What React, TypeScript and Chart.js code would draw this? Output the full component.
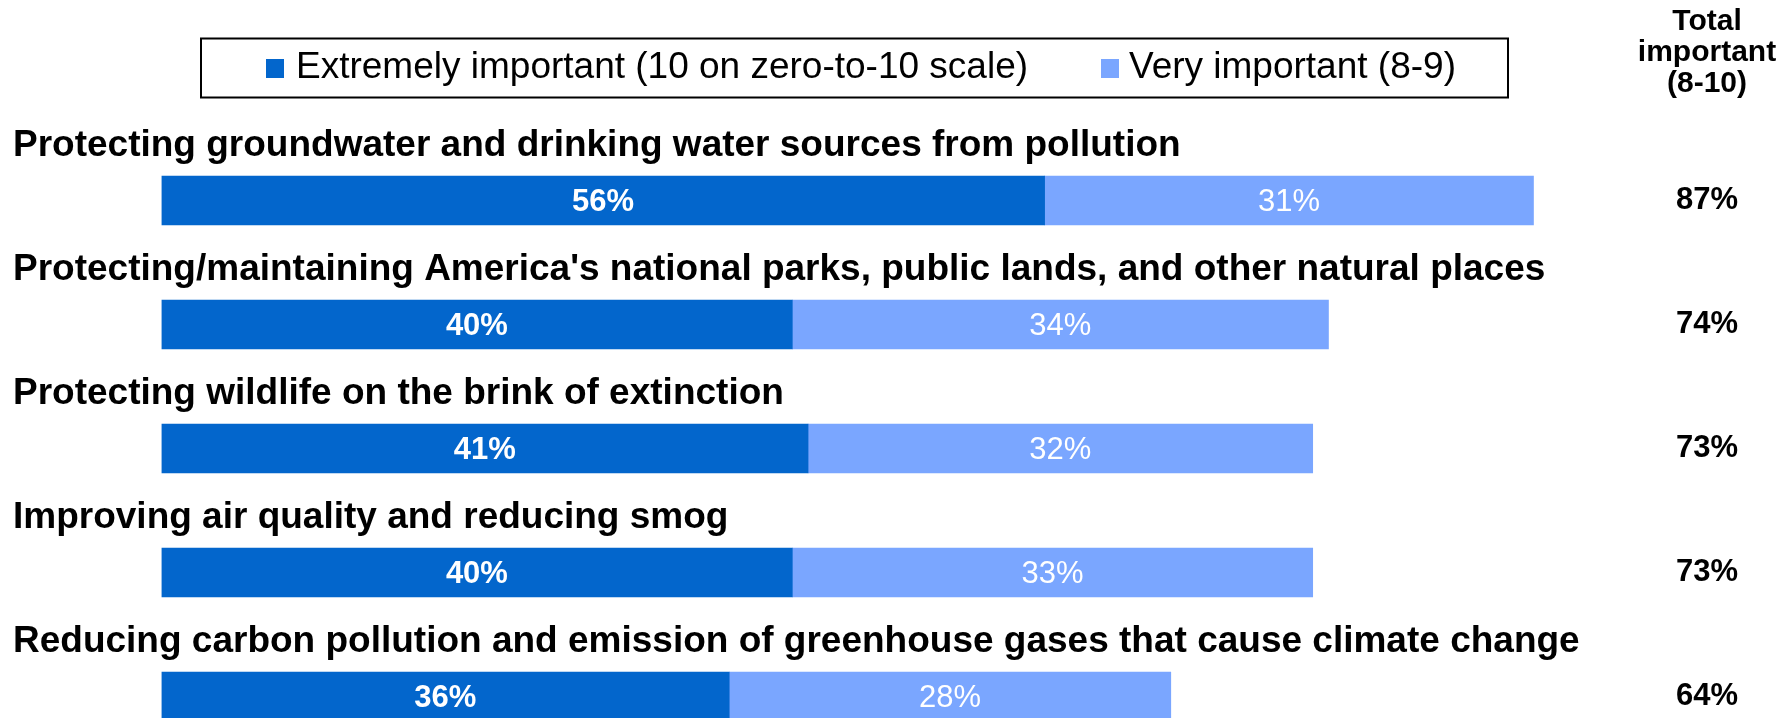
import React, { useEffect, useRef } from "react";
import { Chart, registerables } from "chart.js";

Chart.register(...registerables);

const categories = [
  "Protecting groundwater and drinking water sources from pollution",
  "Protecting/maintaining America's national parks, public lands, and other natural places",
  "Protecting wildlife on the brink of extinction",
  "Improving air quality and reducing smog",
  "Reducing carbon pollution and emission of greenhouse gases that cause climate change",
];
const extremelyValues = [56, 40, 41, 40, 36];
const veryValues = [31, 34, 32, 33, 28];
const totalValues = [87, 74, 73, 73, 64];
const seriesLabels = ["Extremely important (10 on zero-to-10 scale)", "Very important (8-9)"];
const totalHeader = ["Total", "important", "(8-10)"];

const DARK = "#0366CC";
const LIGHT = "#7AA6FF";
const FONT = '"Liberation Sans", Arial, sans-serif';
const TOTAL_X = 1707;

const overlay = {
  id: "overlay",
  afterDatasetsDraw(chart: any) {
    const ctx = chart.ctx;
    ctx.save();
    const meta0 = chart.getDatasetMeta(0);
    meta0.data.forEach((el: any, i: number) => {
      const { y, height } = el.getProps(["y", "height"], true);
      const top = y - height / 2;
      ctx.fillStyle = "#000";
      ctx.font = `bold 37px ${FONT}`;
      ctx.textAlign = "left";
      ctx.textBaseline = "alphabetic";
      ctx.fillText(categories[i], 13, top - 20);
      ctx.font = `bold 31px ${FONT}`;
      ctx.textAlign = "center";
      ctx.textBaseline = "middle";
      ctx.fillText(`${totalValues[i]}%`, TOTAL_X, y);
    });
    chart.data.datasets.forEach((ds: any, d: number) => {
      const meta = chart.getDatasetMeta(d);
      meta.data.forEach((el: any, i: number) => {
        const { x, y, base } = el.getProps(["x", "y", "base"], true);
        ctx.fillStyle = "#fff";
        ctx.font = `${d === 0 ? "bold " : ""}31px ${FONT}`;
        ctx.textAlign = "center";
        ctx.textBaseline = "middle";
        ctx.fillText(`${ds.data[i]}%`, (x + base) / 2, y + 2);
      });
    });
    ctx.fillStyle = "#000";
    ctx.font = `bold 30px ${FONT}`;
    ctx.textAlign = "center";
    ctx.textBaseline = "alphabetic";
    totalHeader.forEach((t, k) => ctx.fillText(t, TOTAL_X, 30 + k * 31));
    ctx.strokeStyle = "#000";
    ctx.lineWidth = 2;
    ctx.strokeRect(201, 38.5, 1307, 59);
    const items = [
      { sq: 266, tx: 296, color: DARK },
      { sq: 1101, tx: 1129, color: LIGHT },
    ];
    ctx.font = `37px ${FONT}`;
    ctx.textAlign = "left";
    ctx.textBaseline = "middle";
    items.forEach((it, k) => {
      ctx.fillStyle = it.color;
      ctx.fillRect(it.sq, 59, 18, 19);
      ctx.fillStyle = "#000";
      ctx.fillText(seriesLabels[k], it.tx, 68);
    });
    ctx.restore();
  },
};

export default function App() {
  const ref = useRef<HTMLCanvasElement>(null);
  useEffect(() => {
    const chart = new Chart(ref.current!, {
      type: "bar",
      data: {
        labels: categories,
        datasets: [
          { label: seriesLabels[0], data: extremelyValues, backgroundColor: DARK, barThickness: 49 },
          { label: seriesLabels[1], data: veryValues, backgroundColor: LIGHT, barThickness: 49 },
        ],
      },
      options: {
        indexAxis: "y",
        responsive: false,
        animation: false,
        layout: { padding: { left: 161.5, right: 51.5, top: 138.5, bottom: 1.5 } },
        scales: {
          x: { stacked: true, min: 0, max: 100, display: false },
          y: { stacked: true, display: false },
        },
        plugins: { legend: { display: false }, tooltip: { enabled: false } },
      },
      plugins: [overlay],
    });
    return () => chart.destroy();
  }, []);
  return (
    <div style={{ position: "fixed", left: 0, top: 0, width: 1790, height: 718, overflow: "hidden", background: "#fff" }}>
      <canvas ref={ref} width={1790} height={760} style={{ width: 1790, height: 760, display: "block" }} />
    </div>
  );
}
